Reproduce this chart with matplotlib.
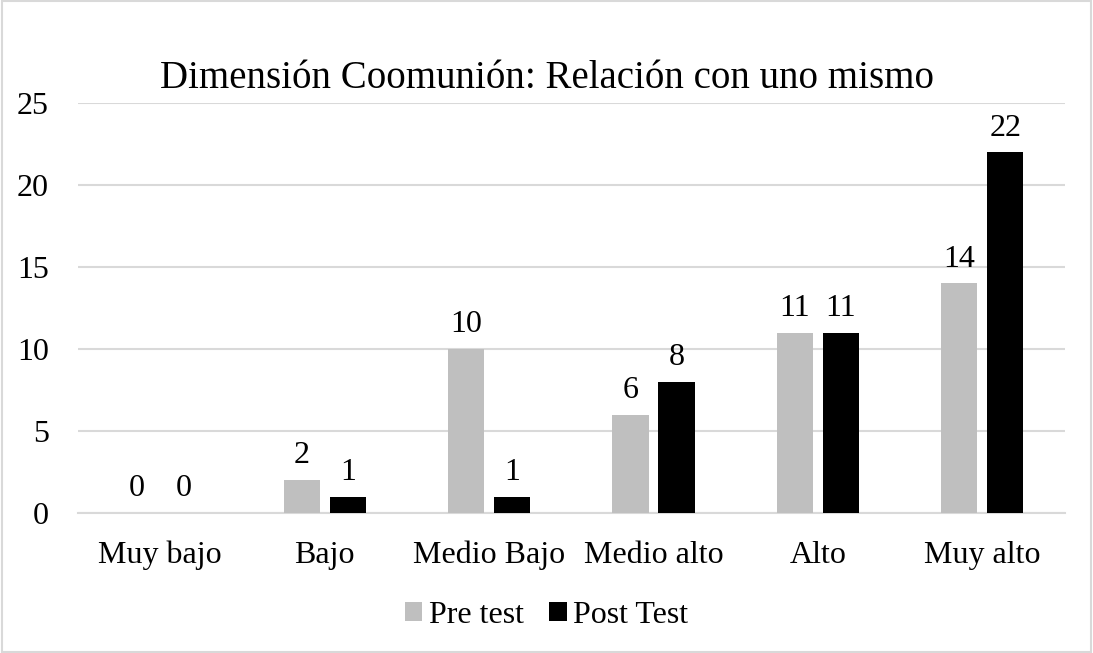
import numpy as np
import matplotlib.pyplot as plt
from matplotlib.patches import Rectangle

categories = ['Muy bajo', 'Bajo', 'Medio Bajo', 'Medio alto', 'Alto', 'Muy alto']
pre_test = [0, 2, 10, 6, 11, 14]
post_test = [0, 1, 1, 8, 11, 22]
yticks = [0, 5, 10, 15, 20, 25]

plt.rcParams['font.family'] = ['Liberation Serif', 'DejaVu Serif']

fig = plt.figure(figsize=(10.93, 6.53), dpi=100)
ax = fig.add_axes([0.0714, 0.2144, 0.9026, 0.6276])

x = np.arange(len(categories))
w = 0.22
off = 0.14
b1 = ax.bar(x - off, pre_test, w, color='#BFBFBF', label='Pre test', zorder=3)
b2 = ax.bar(x + off, post_test, w, color='#000000', label='Post Test', zorder=3)

# value labels above bars
for bars in (b1, b2):
    for r in bars:
        h = r.get_height()
        ax.annotate(str(int(h)), (r.get_x() + r.get_width() / 2, h),
                    xytext=(0, 7), textcoords='offset points',
                    ha='center', va='bottom', fontsize=23)

ax.set_xlim(-0.5, len(categories) - 0.5)
ax.set_ylim(0, 25)
ax.set_yticks(yticks)
ax.set_xticks(x)
ax.set_xticklabels(categories, va='baseline')
ax.tick_params(axis='both', length=0, labelsize=23)
ax.tick_params(axis='y', pad=21)
ax.tick_params(axis='x', pad=36)
ax.yaxis.grid(True, color='#D9D9D9', linewidth=1.5, zorder=0)
for s in ['top', 'right', 'left']:
    ax.spines[s].set_visible(False)
ax.spines['bottom'].set_color('#D9D9D9')
ax.spines['bottom'].set_linewidth(1.5)

fig.text(0.5, 0.88, 'Dimensión Coomunión: Relación con uno mismo',
         ha='center', va='center', fontsize=28)

fig.legend(handles=[b1, b2], loc='center', bbox_to_anchor=(0.5, 0.058),
           ncol=2, frameon=False, fontsize=23, handlelength=0.55,
           handleheight=0.55, handletextpad=0.2, columnspacing=0.8)

fig.patches.append(Rectangle((0.002, 0.002), 0.996, 0.996, transform=fig.transFigure,
                             fill=False, edgecolor='#D9D9D9', linewidth=1.5))

fig.savefig('out.png', dpi=100)
